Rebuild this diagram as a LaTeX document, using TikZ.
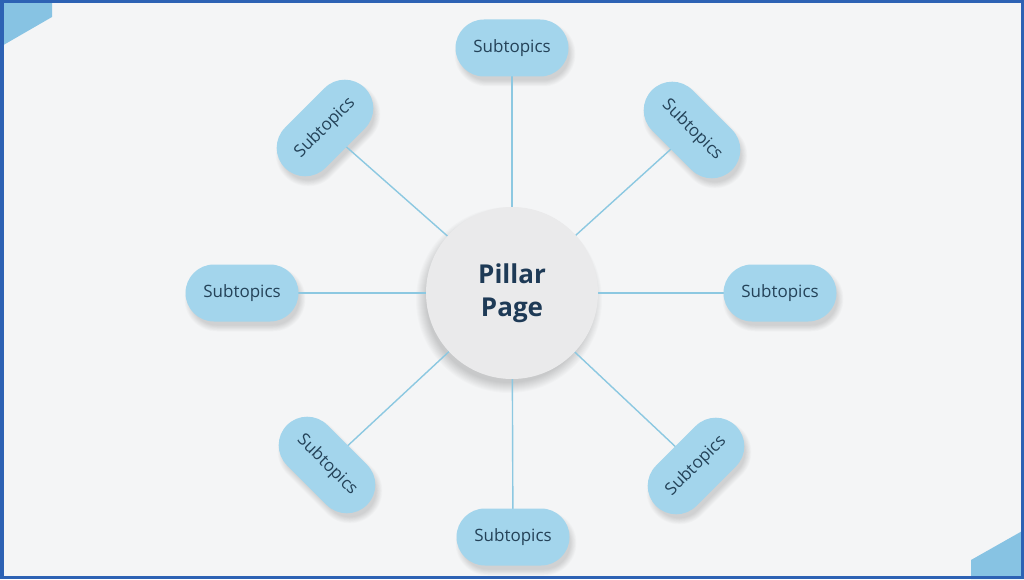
\documentclass[tikz,border=0pt]{standalone}
\usepackage{fontspec}
\setmainfont{Open Sans}
\definecolor{bgc}{RGB}{244,245,246}
\definecolor{bordc}{RGB}{45,98,180}
\definecolor{cornc}{RGB}{135,195,227}
\definecolor{pillc}{RGB}{163,213,236}
\definecolor{linec}{RGB}{140,200,225}
\definecolor{circc}{RGB}{234,234,235}
\definecolor{titc}{RGB}{30,58,86}
\definecolor{subc}{RGB}{36,66,88}
\pgfdeclarelayer{bg}
\pgfdeclarelayer{shadow}
\pgfdeclarelayer{lines}
\pgfsetlayers{bg,shadow,lines,main}
\tikzset{
  pill/.style={rectangle, minimum width=113pt, minimum height=57pt, rounded corners=28.5pt,
    inner sep=0pt, fill=pillc, text=subc, font=\fontsize{17}{19}\selectfont},
  hub/.style={circle, minimum size=172pt, inner sep=0pt, fill=circc, text=titc,
    align=center, font=\fontsize{26}{33}\selectfont\bfseries},
  conn/.style={draw=linec, line width=1.4pt},
  shade/.style={fill=black, fill opacity=0.014}
}
\begin{document}
\begin{tikzpicture}[x=1pt,y=1pt]
\begin{pgfonlayer}{bg}
\fill[bgc] (0,0) rectangle (1024,579);
\fill[cornc] (0,579) -- (52,579) -- (52,562) -- (0,532) -- cycle;
\fill[cornc] (971,0) -- (971,19) -- (1024,49) -- (1024,0) -- cycle;
\draw[bordc, line width=3.5pt] (1.75,1.75) rectangle (1022.25,577.25);
\end{pgfonlayer}
\useasboundingbox (0,0) rectangle (1024,579);
\node[hub] (C) at (512,286) {Pillar\\Page};
\node[pill] (T) at (512,531) {Subtopics};
\node[pill] (B) at (513,42) {Subtopics};
\node[pill] (L) at (242,286) {Subtopics};
\node[pill] (R) at (780,286) {Subtopics};
\node[pill, rotate=45] (TL) at (325,451) {Subtopics};
\node[pill, rotate=-45] (TR) at (692,449) {Subtopics};
\node[pill, rotate=-45] (BL) at (327,114) {Subtopics};
\node[pill, rotate=45] (BR) at (696,113) {Subtopics};
\begin{pgfonlayer}{shadow}
\foreach \n/\a in {T/0,B/0,L/0,R/0,TL/45,TR/-45,BL/-45,BR/45}{
  \begin{scope}[shift={(\n.center)}, shift={(3,-6)}, rotate=\a]
  \foreach \r in {0,0.75,...,6}{
    \fill[shade, rounded corners=26.5pt+\r pt] (-54.5-\r,-26.5-\r) rectangle (54.5+\r,26.5+\r);
  }
  \end{scope}
}
\foreach \r in {0,1,...,10}{
  \fill[shade] ([shift={(-3,-7)}]C.center) circle (83+\r);
}
\end{pgfonlayer}
\begin{pgfonlayer}{lines}
\foreach \n in {T,B,L,R,TL,TR,BL,BR}{
  \draw[conn] (C.center) -- (\n.center);
}
\end{pgfonlayer}
\end{tikzpicture}
\end{document}
